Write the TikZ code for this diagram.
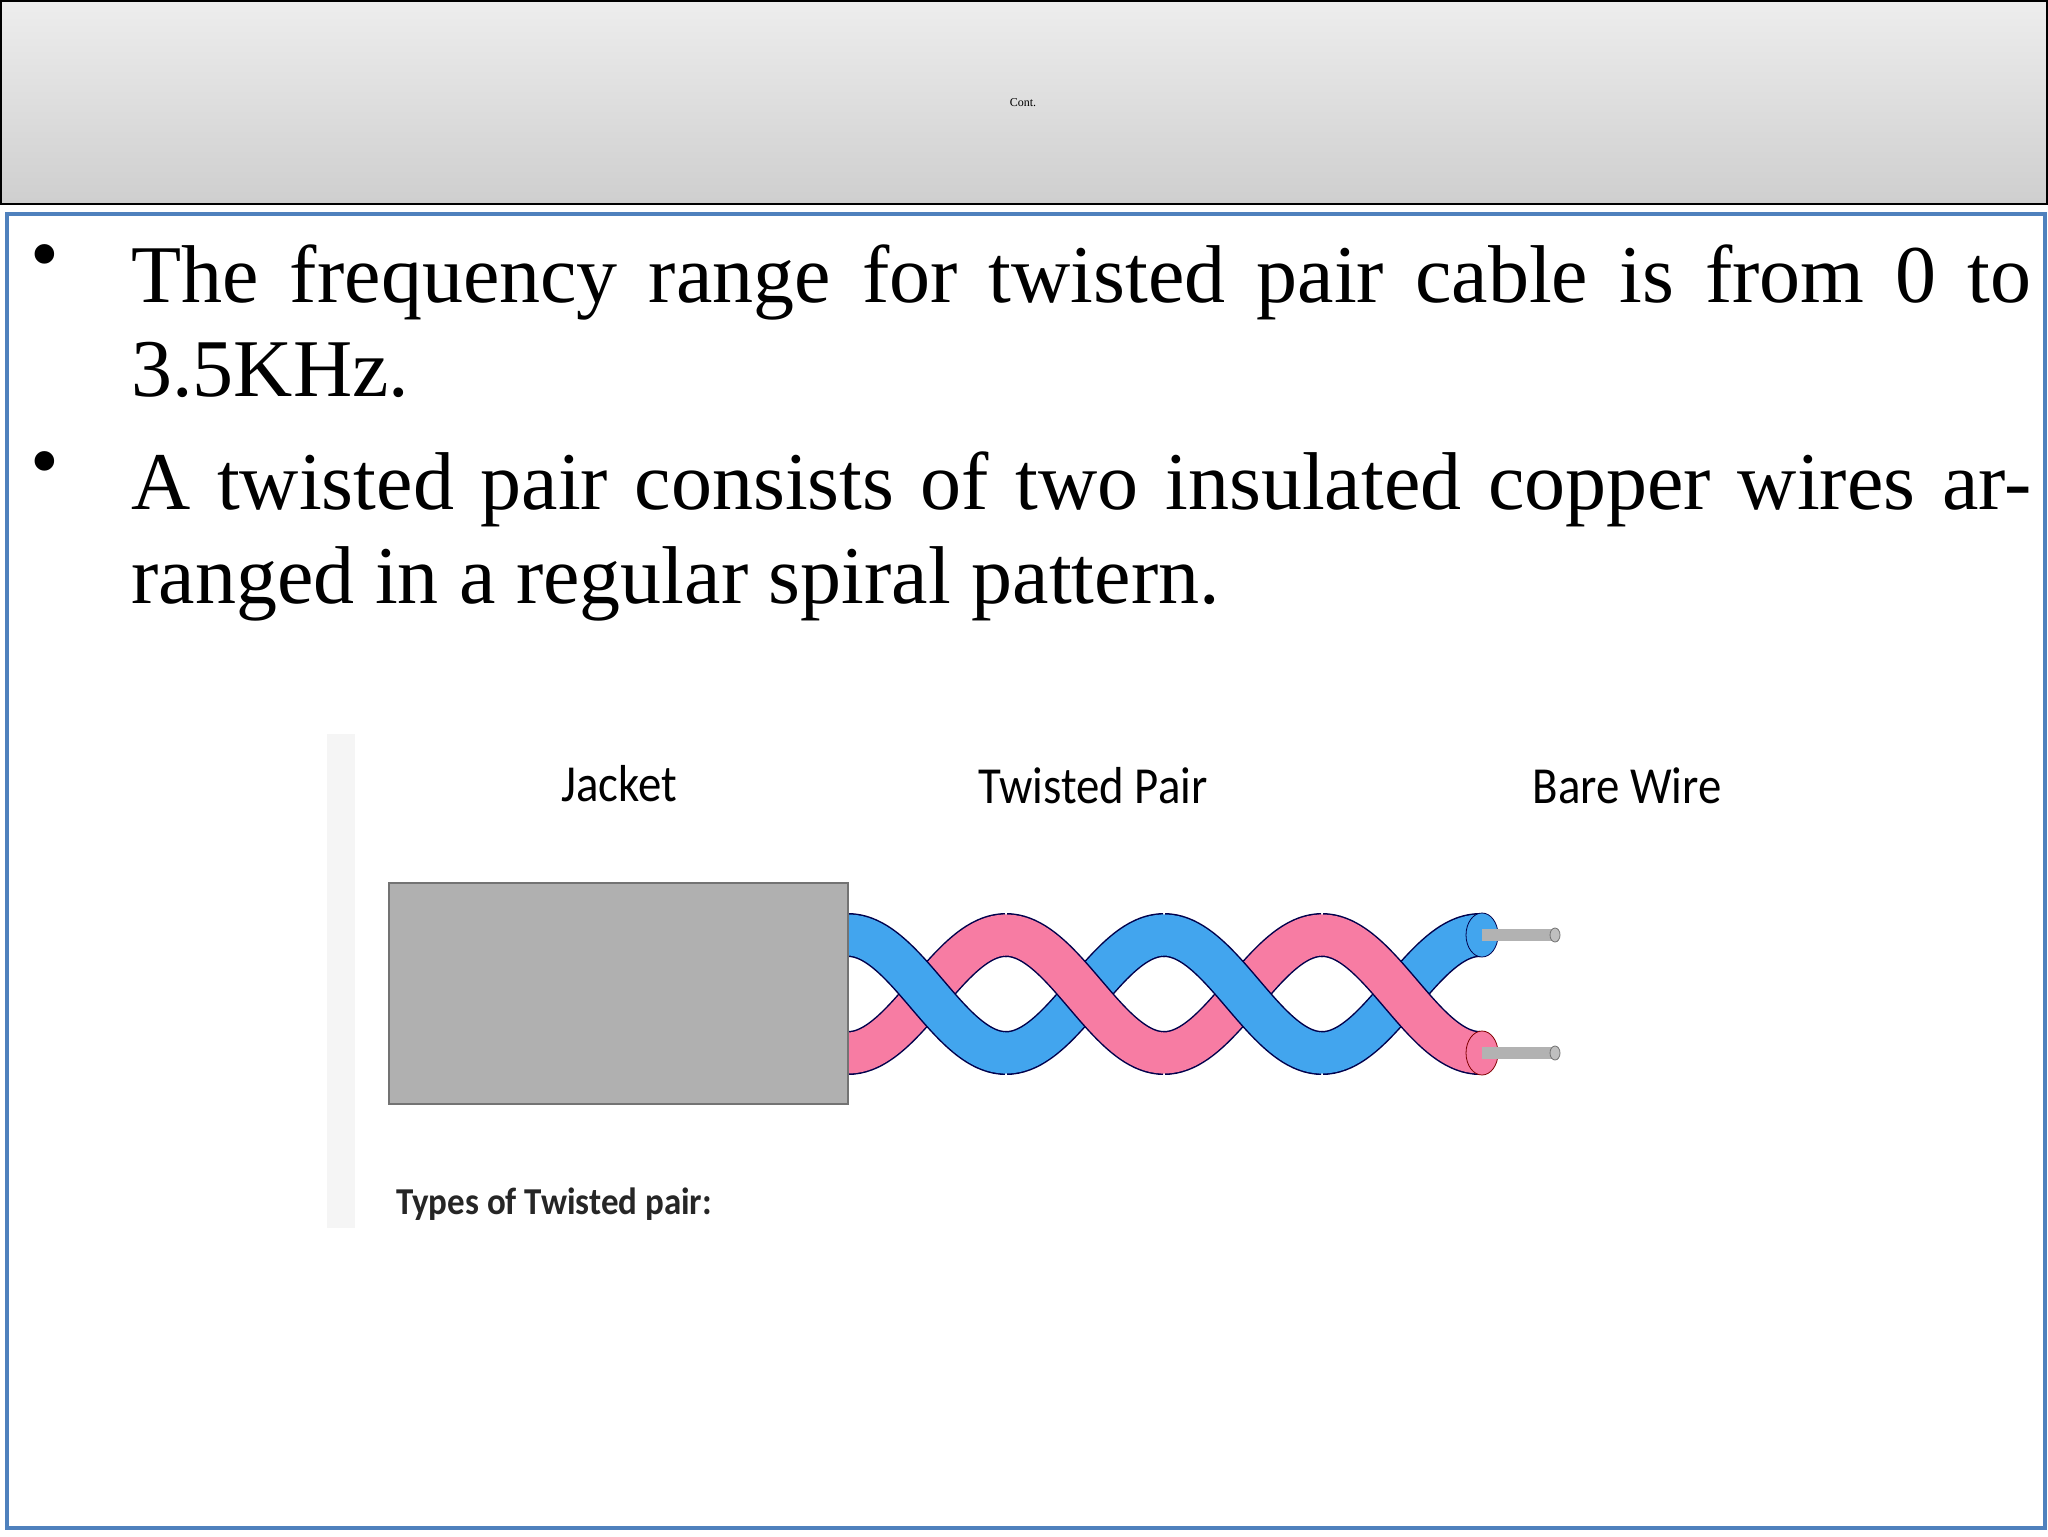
\documentclass[tikz,border=0pt]{standalone}
\usepackage{fontspec}
\setmainfont{Liberation Serif}
\newfontfamily\calib{Carlito}
\definecolor{frameblue}{RGB}{79,129,189}
\definecolor{wblue}{RGB}{66,165,238}
\definecolor{wpink}{RGB}{247,124,163}
\definecolor{jack}{RGB}{176,176,176}
\newcommand\mystrand[4]{% from deg, to deg, sign, fill style
  \draw[outl] plot[variable=\t,domain=#1:#2,samples=40] ({848+0.8778*\t},{994+#3*59*cos(\t)});
  \draw[#4] plot[variable=\t,domain=#1-3:#2+3,samples=40] ({848+0.8778*\t},{994+#3*59*cos(\t)});}
\begin{document}
\begin{tikzpicture}[x=0.5pt,y=-0.5pt,
  bul/.style={anchor=north west,inner sep=0pt,text width=950pt,align=justify,font=\fontsize{41}{47}\selectfont},
  dot/.style={anchor=north west,inner sep=0pt,font=\fontsize{41}{47}\selectfont},
  lab/.style={font=\calib\fontsize{26}{30}\selectfont},
  outl/.style={line width=22pt,color=black!70!blue},
  bfill/.style={line width=20.5pt,color=wblue},
  pfill/.style={line width=20.5pt,color=wpink}]
\useasboundingbox (0,0) rectangle (2048,1536);
\fill[white] (0,0) rectangle (2048,1536);
% header
\shade[top color=black!7,bottom color=black!19] (1,1) rectangle (2047,204);
\draw[line width=1pt] (1,1) rectangle (2047,204);
\node (title) at (1023,103) {\fontsize{6}{7}\selectfont Cont.};
% body frame
\draw[frameblue,line width=2pt] (7,214) rectangle (2045,1528);
% bullets
\node[dot] (b1) at (30,244) {\textbullet};
\node[bul] (t1) at (131,244) {The frequency range for twisted pair cable is from 0 to 3.5KHz.};
\node[dot] (b2) at (30,451) {\textbullet};
\node[bul] (t2) at (131,451) {A twisted pair consists of two insulated copper wires arranged in a regular spiral pattern.};
% image strip
\fill[black!4] (327,734) rectangle (355,1228);
\node[lab] (jl) at (619,784) {\scalebox{0.9}[1]{Jacket}};
\node[lab] (tl) at (1093,786) {\scalebox{0.9}[1]{Twisted Pair}};
\node[lab] (bl) at (1627,786) {\scalebox{0.9}[1]{Bare Wire}};
\node[anchor=west,font=\calib\bfseries\fontsize{19}{24}\selectfont,text=black!85] (types) at (389,1204) {\scalebox{0.92}[1]{Types of Twisted pair:}};
% twisted strands (alternate which one lies on top)
\mystrand{0}{180}{1}{pfill}\mystrand{0}{180}{-1}{bfill}
\mystrand{180}{360}{-1}{bfill}\mystrand{180}{360}{1}{pfill}
\mystrand{360}{540}{1}{pfill}\mystrand{360}{540}{-1}{bfill}
\mystrand{540}{720}{-1}{bfill}\mystrand{540}{720}{1}{pfill}
% ends and bare wires
\coordinate (e1) at (1482,935);
\coordinate (e2) at (1482,1053);
\coordinate (w1) at (1555,935);
\coordinate (w2) at (1555,1053);
\filldraw[fill=wblue,draw=black!70!blue] (e1) ellipse [x radius=16,y radius=22];
\filldraw[fill=wpink,draw=black!50!red] (e2) ellipse [x radius=16,y radius=22];
\draw[black!30,line width=6pt] (e1) -- (w1);
\draw[black!30,line width=6pt] (e2) -- (w2);
\filldraw[fill=black!25,draw=black!55] (w1) ellipse [x radius=5,y radius=7];
\filldraw[fill=black!25,draw=black!55] (w2) ellipse [x radius=5,y radius=7];
% jacket
\filldraw[fill=jack,draw=black!55,line width=1pt] (389,883) rectangle (848,1104);
\end{tikzpicture}
\end{document}
